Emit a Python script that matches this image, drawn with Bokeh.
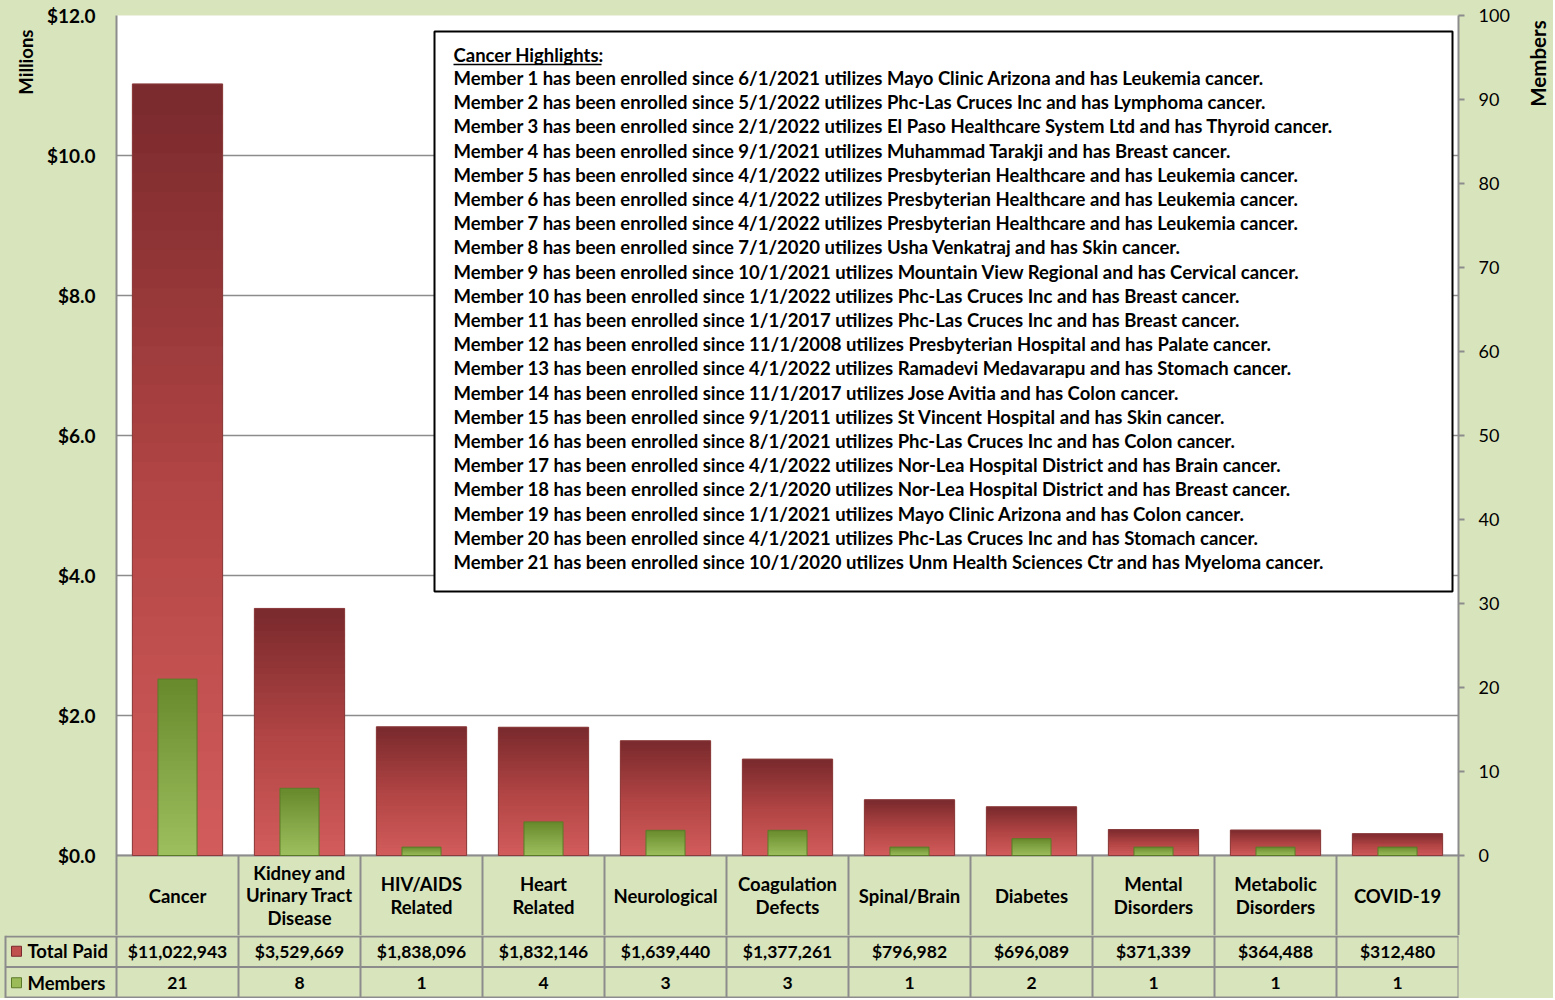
import math
from bokeh.plotting import figure
from bokeh.layouts import column, row
from bokeh.models import Range1d, LinearAxis, FixedTicker, ColumnDataSource, Title
from bokeh.core.properties import value
from bokeh.embed import file_html
from bokeh.resources import INLINE

# ---------------- data ----------------
categories = ["Cancer", "Kidney and\nUrinary Tract\nDisease", "HIV/AIDS\nRelated", "Heart\nRelated",
              "Neurological", "Coagulation\nDefects", "Spinal/Brain", "Diabetes",
              "Mental\nDisorders", "Metabolic\nDisorders", "COVID-19"]
total_paid = [11022943, 3529669, 1838096, 1832146, 1639440, 1377261, 796982, 696089, 371339, 364488, 312480]
members = [21, 8, 1, 4, 3, 3, 1, 2, 1, 1, 1]
left_ticks = [0, 2, 4, 6, 8, 10, 12]
right_ticks = [0, 10, 20, 30, 40, 50, 60, 70, 80, 90, 100]
row_labels = ["Total Paid", "Members"]
left_title = "Millions"
right_title = "Members"

highlight_title = "Cancer Highlights:"
enrolled_since = ["6/1/2021", "5/1/2022", "2/1/2022", "9/1/2021", "4/1/2022", "4/1/2022", "4/1/2022",
                  "7/1/2020", "10/1/2021", "1/1/2022", "1/1/2017", "11/1/2008", "4/1/2022", "11/1/2017",
                  "9/1/2011", "8/1/2021", "4/1/2022", "2/1/2020", "1/1/2021", "4/1/2021", "10/1/2020"]
providers = ["Mayo Clinic Arizona", "Phc-Las Cruces Inc", "El Paso Healthcare System Ltd", "Muhammad Tarakji",
             "Presbyterian Healthcare", "Presbyterian Healthcare", "Presbyterian Healthcare", "Usha Venkatraj",
             "Mountain View Regional", "Phc-Las Cruces Inc", "Phc-Las Cruces Inc", "Presbyterian Hospital",
             "Ramadevi Medavarapu", "Jose Avitia", "St Vincent Hospital", "Phc-Las Cruces Inc",
             "Nor-Lea Hospital District", "Nor-Lea Hospital District", "Mayo Clinic Arizona",
             "Phc-Las Cruces Inc", "Unm Health Sciences Ctr"]
cancer_types = ["Leukemia", "Lymphoma", "Thyroid", "Breast", "Leukemia", "Leukemia", "Leukemia", "Skin",
                "Cervical", "Breast", "Breast", "Palate", "Stomach", "Colon", "Skin", "Colon", "Brain",
                "Breast", "Colon", "Stomach", "Myeloma"]

# ---------------- layout / style ----------------
FONT = value("Lato")
BG = "#d8e4bc"
LINE = "#8c8c8c"
W_SIDE = 26
W = 1553 - W_SIDE
H1 = 935
H2 = 63
FRAME_L = 116
FRAME_R = 1458
FRAME_T = 15
ZERO_Y = 855
PX_PER_M = (ZERO_Y - FRAME_T) / 12.0
CELL_W = (FRAME_R - FRAME_L) / len(categories)
Y_MIN = -(H1 - ZERO_Y) / PX_PER_M


def dx(page_x):
    return (page_x - FRAME_L) / CELL_W


def dy(page_y):
    return (ZERO_Y - page_y) / PX_PER_M


def hex2rgb(h):
    return tuple(int(h[i:i + 2], 16) for i in (1, 3, 5))


def grad(stops, t):
    for (t0, c0), (t1, c1) in zip(stops[:-1], stops[1:]):
        if t0 <= t <= t1:
            a, b = hex2rgb(c0), hex2rgb(c1)
            f = (t - t0) / (t1 - t0) if t1 > t0 else 0
            return "#%02x%02x%02x" % tuple(int(round(a[k] + (b[k] - a[k]) * f)) for k in range(3))
    return stops[-1][1]


RED_STOPS = [(0.0, "#7a2a2d"), (0.5, "#b14444"), (1.0, "#d35d5c")]
GREEN_STOPS = [(0.0, "#68892c"), (0.5, "#84a646"), (1.0, "#9fc05e")]


def bands(vals, half_w, stops, n=40):
    d = dict(left=[], right=[], bottom=[], top=[], color=[])
    for i, v in enumerate(vals):
        for k in range(n):
            d["left"].append(i + 0.5 - half_w)
            d["right"].append(i + 0.5 + half_w)
            d["bottom"].append(max(0.0, v * (k - 0.6) / n))
            d["top"].append(v * (k + 1) / n)
            d["color"].append(grad(stops, 1 - (k + 0.5) / n))
    return ColumnDataSource(d)


def text_style(size, align="center"):
    return dict(text_font=FONT, text_font_style="bold", text_font_size=size, text_align=align,
                text_baseline="middle", text_color="black")


# ---------------- main chart ----------------
paid_m = [v / 1e6 for v in total_paid]
xs = [i + 0.5 for i in range(len(categories))]

p = figure(width=W, height=H1, output_backend="svg", toolbar_location=None,
           x_range=Range1d(0, len(categories)), y_range=Range1d(Y_MIN, 12),
           x_axis_location=None, y_axis_location="left",
           min_border_left=FRAME_L, min_border_right=W - FRAME_R, min_border_top=FRAME_T,
           min_border_bottom=0)
p.extra_y_ranges = {"members": Range1d(Y_MIN * 100 / 12.0, 100)}
p.background_fill_color = "white"
p.border_fill_color = BG
p.outline_line_color = None
p.xgrid.visible = False
p.ygrid.ticker = FixedTicker(ticks=left_ticks)
p.ygrid.grid_line_color = LINE
p.ygrid.grid_line_width = 1.5

ya = p.yaxis[0]
ya.ticker = FixedTicker(ticks=left_ticks)
ya.major_label_overrides = {t: "$%.1f" % t for t in left_ticks}
ya.major_tick_out = 0
ya.major_tick_in = 0
ya.minor_tick_out = 0
ya.minor_tick_in = 0
ya.major_label_standoff = 21
ya.major_label_text_font = "Lato"
ya.major_label_text_font_style = "bold"
ya.major_label_text_font_size = "19px"
ya.major_label_text_color = "black"
ya.axis_line_color = LINE
ya.axis_line_width = 2

ra = LinearAxis(y_range_name="members", ticker=FixedTicker(ticks=right_ticks))
ra.major_tick_out = 6
ra.major_tick_in = 0
ra.minor_tick_out = 0
ra.minor_tick_in = 0
ra.major_tick_line_color = LINE
ra.major_tick_line_width = 2
ra.major_label_standoff = 14
ra.major_label_text_font = "Lato"
ra.major_label_text_font_size = "18px"
ra.major_label_text_color = "black"
ra.axis_line_color = LINE
ra.axis_line_width = 2
p.add_layout(ra, "right")

# left axis title
p.add_layout(Title(text=left_title, align="right", offset=14, standoff=13, text_font="Lato",
                   text_font_style="bold", text_font_size="18.5px", text_color="black"), "left")

# category row background (below zero)
p.quad(left=[0], right=[len(categories)], bottom=[Y_MIN], top=[0], fill_color=BG, line_color=None)
p.segment(x0=list(range(1, len(categories))), x1=list(range(1, len(categories))),
          y0=[0] * (len(categories) - 1), y1=[Y_MIN] * (len(categories) - 1),
          line_color=LINE, line_width=2)
p.segment(x0=[0], x1=[len(categories)], y0=[0], y1=[0], line_color=LINE, line_width=2)

# red bars (gradient)
p.vbar(x=xs, width=0.74, top=paid_m, bottom=0, fill_color="#a83f40", line_color=None)
p.quad(left="left", right="right", bottom="bottom", top="top", fill_color="color",
       line_color=None, source=bands(paid_m, 0.37, RED_STOPS))
p.vbar(x=xs, width=0.74, top=paid_m, bottom=0, fill_color=None, line_color="#8a3b3b", line_width=1)

# green bars (gradient, right axis)
p.vbar(x=xs, width=0.32, top=members, bottom=0, fill_color="#84a646", line_color=None,
       y_range_name="members")
p.quad(left="left", right="right", bottom="bottom", top="top", fill_color="color",
       line_color=None, source=bands(members, 0.16, GREEN_STOPS), y_range_name="members")
p.vbar(x=xs, width=0.32, top=members, bottom=0, fill_color=None, line_color="#5b7a28",
       line_width=1, y_range_name="members")

# category labels
p.text(x=xs, y=[Y_MIN / 2] * len(categories), text=categories, text_line_height=1.04,
       **text_style("18.5px"))

# highlight box
p.quad(left=[dx(434)], right=[dx(1452)], bottom=[dy(591)], top=[dy(31)],
       fill_color="white", line_color="black", line_width=2)
p.text(x=[dx(453)], y=[dy(54)], text=[highlight_title], **text_style("18.5px", "left"))
p.segment(x0=[dx(453)], x1=[dx(601)], y0=[dy(64)], y1=[dy(64)], line_color="black", line_width=1.4)
lines = ["Member %d has been enrolled since %s utilizes %s and has %s cancer." % (i + 1, d, pr, c)
         for i, (d, pr, c) in enumerate(zip(enrolled_since, providers, cancer_types))]
p.text(x=[dx(453)] * len(lines), y=[dy(77.5 + 24.2 * i) for i in range(len(lines))], text=lines,
       **text_style("18.5px", "left"))

# ---------------- data table rows ----------------
t = figure(width=W, height=H2, output_backend="svg", toolbar_location=None,
           x_range=Range1d(-FRAME_L / CELL_W, len(categories)), y_range=Range1d(0, 2),
           x_axis_location=None, y_axis_location=None,
           min_border_left=0, min_border_right=W - FRAME_R, min_border_top=0, min_border_bottom=0)
t.background_fill_color = BG
t.border_fill_color = BG
t.outline_line_color = None
t.grid.visible = False

px_y = 1.0 / (H2 / 2.0)
x_left = dx(5)
t.segment(x0=[x_left] * 3, x1=[len(categories)] * 3, y0=[2 - px_y, 1, px_y], y1=[2 - px_y, 1, px_y],
          line_color=LINE, line_width=2)
vx = [x_left] + list(range(0, len(categories) + 1))
t.segment(x0=vx, x1=vx, y0=[0] * len(vx), y1=[2] * len(vx), line_color=LINE, line_width=2)

t.scatter(x=[dx(16)] * 2, y=[1.5, 0.5], marker="square", size=10,
          fill_color=["#c0504d", "#9bbb59"], line_color=["#7a2a2d", "#5b7a28"], line_width=1)
t.text(x=[dx(27)] * 2, y=[1.5, 0.5], text=row_labels, **text_style("18.5px", "left"))
t.text(x=xs, y=[1.5] * len(xs), text=["$" + format(v, ",") for v in total_paid], **text_style("17.5px"))
t.text(x=xs, y=[0.5] * len(xs), text=[str(v) for v in members], **text_style("17.5px"))

# ---------------- right-hand axis title strip ----------------
HS = H1 + H2
s = figure(width=W_SIDE, height=HS, output_backend="svg", toolbar_location=None,
           x_range=Range1d(0, W_SIDE), y_range=Range1d(0, HS),
           x_axis_location=None, y_axis_location=None,
           min_border_left=0, min_border_right=0, min_border_top=0, min_border_bottom=0)
s.background_fill_color = BG
s.border_fill_color = BG
s.outline_line_color = None
s.grid.visible = False
s.text(x=[1537 - W], y=[HS - 63], text=[right_title], angle=math.pi / 2, **text_style("20.5px"))

for fig in (p, t, s):
    if hasattr(fig, "frame_align"):
        fig.frame_align = False

left_col = column(p, t, spacing=0, styles={"background-color": BG})
layout = row(left_col, s, spacing=0, styles={"background-color": BG})
open("out.html", "w").write(file_html(layout, INLINE))
